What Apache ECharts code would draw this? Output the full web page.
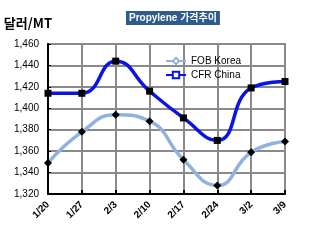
<!DOCTYPE html>
<html>
<head>
<meta charset="utf-8">
<script src="https://cdn.jsdelivr.net/npm/echarts@6/dist/echarts.min.js"></script>
<style>
  html, body { margin: 0; padding: 0; background: #fff; }
  #chart { width: 315px; height: 240px; }
</style>
</head>
<body>
<div id="chart"></div>
<script>
// 주차별 날짜
var weeks = ['1/20', '1/27', '2/3', '2/10', '2/17', '2/24', '3/2', '3/9'];
// FOB Korea 가격 (달러/MT)
var fobKorea = [1349, 1378, 1394, 1388, 1352, 1328, 1359, 1369];
// CFR China 가격 (달러/MT)
var cfrChina = [1414, 1414, 1444, 1416, 1391, 1370, 1419, 1425];
var yTicks = [1320, 1340, 1360, 1380, 1400, 1420, 1440, 1460];

var myChart = echarts.init(document.getElementById('chart'));
var option = {
	animation : false,
	title : {
		text : 'Propylene 가격추이',
		left : 126,
		top : 11,
		padding : [2, 3, 2, 3],
		backgroundColor : '#2f5b8d',
		textStyle : {
			color : '#fff',
			fontSize : 10,
			fontWeight : 'bold',
			fontFamily : 'Liberation Sans, Noto Sans CJK KR, sans-serif'
		}
	},
	legend : {
		orient : 'vertical',
		left : 160,
		top : 51,
		itemGap : 4,
		itemWidth : 20,
		itemHeight : 8,
		textStyle : {
			fontSize : 10,
			color : '#000',
			fontFamily : 'Liberation Sans, sans-serif'
		},
		data : [ {
			name : 'FOB Korea',
			itemStyle : { color : '#fff', borderColor : '#8fb2de', borderWidth : 2 }
		}, {
			name : 'CFR China',
			itemStyle : { color : '#fff', borderColor : '#0a14e6', borderWidth : 2 }
		} ]
	},
	grid : {
		left : 48,
		top : 44,
		width : 237,
		height : 150,
		show : true,
		borderColor : '#8a8a8a',
		borderWidth : 2
	},
	xAxis : {
		type : 'category',
		data : weeks,
		boundaryGap : false,
		axisLine : { lineStyle : { color : '#000', width : 2 } },
		axisTick : { show : true, length : 4, inside : true, lineStyle : { color : '#000', width : 2 } },
		axisLabel : {
			rotate : 45,
			fontSize : 10,
			fontWeight : 'bold',
			color : '#000',
			margin : 9,
			fontFamily : 'Liberation Sans, sans-serif'
		},
		splitLine : { show : true, lineStyle : { color : '#8a8a8a', width : 2 } }
	},
	yAxis : {
		type : 'value',
		name : '달러/MT',
		nameLocation : 'end',
		nameGap : 14,
		nameTextStyle : {
			fontSize : 13,
			fontWeight : 'bold',
			color : '#000',
			align : 'right',
			padding : [0, -4, 0, 0],
			fontFamily : 'Noto Sans CJK KR, sans-serif'
		},
		min : yTicks[0],
		max : yTicks[yTicks.length - 1],
		interval : 20,
		axisLine : { show : true, lineStyle : { color : '#000', width : 2 } },
		axisTick : { show : true, length : 3, inside : true, lineStyle : { color : '#000' } },
		axisLabel : {
			fontSize : 10,
			color : '#000',
			margin : 9,
			fontFamily : 'Liberation Sans, sans-serif',
			formatter : function(v) {
				return v.toLocaleString('en-US');
			}
		},
		splitLine : { lineStyle : { color : '#8a8a8a', width : 2 } }
	},
	series : [ {
		name : 'FOB Korea',
		type : 'line',
		smooth : 0.5,
		data : fobKorea,
		symbol : 'diamond',
		symbolSize : 8,
		itemStyle : { color : '#000' },
		lineStyle : { color : '#8fb2de', width : 3.5 },
		z : 3
	}, {
		name : 'CFR China',
		type : 'line',
		smooth : 0.5,
		data : cfrChina,
		symbol : 'rect',
		symbolSize : 7,
		itemStyle : { color : '#000' },
		lineStyle : { color : '#0a14e6', width : 3.5 },
		z : 4
	} ]
};
myChart.setOption(option);
</script>
</body>
</html>
